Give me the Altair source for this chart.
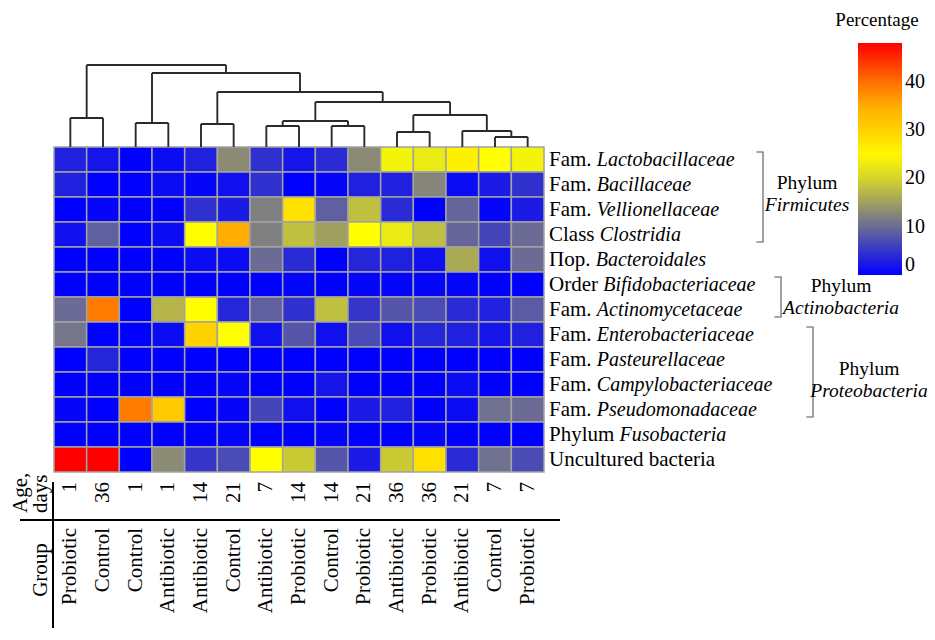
import altair as alt
import pandas as pd

# ---------------- data ----------------
groups = ["Probiotic", "Control", "Control", "Antibiotic", "Antibiotic", "Control", "Antibiotic",
          "Probiotic", "Control", "Probiotic", "Antibiotic", "Probiotic", "Antibiotic", "Control", "Probiotic"]
ages = [1, 36, 1, 1, 14, 21, 7, 14, 14, 21, 36, 36, 21, 7, 7]

row_prefix = ["Fam.", "Fam.", "Fam.", "Class", "Пор.", "Order", "Fam.", "Fam.", "Fam.", "Fam.",
              "Fam.", "Phylum", "Uncultured bacteria"]
row_name = ["Lactobacillaceae", "Bacillaceae", "Vellionellaceae", "Clostridia", "Bacteroidales",
            "Bifidobacteriaceae", "Actinomycetaceae", "Enterobacteriaceae", "Pasteurellaceae",
            "Campylobacteriaceae", "Pseudomonadaceae", "Fusobacteria", ""]

lactobacillaceae = [3, 2, 0, 1, 3, 13, 4.5, 2, 4, 13, 23, 22, 26, 24, 23]
bacillaceae = [3, 0, 0, 1, 0.5, 1.5, 4.5, 0, 0.5, 3, 3, 12.5, 1, 2.5, 4.5]
vellionellaceae = [0, 0.5, 0, 0, 4.5, 2.5, 12, 28, 9, 18, 4, 0, 9.5, 0.5, 2.5]
clostridia = [1.5, 9, 0, 1, 24, 35, 12, 18, 15, 24, 22, 18, 9.5, 6.5, 10]
bacteroidales = [0, 0, 0, 0, 1, 1, 10, 4, 0, 3.5, 3, 1.5, 16, 1.5, 10]
bifidobacteriaceae = [0, 0, 0, 0, 0, 0, 0, 0.5, 0, 0.5, 0.5, 0.5, 0.5, 0, 0]
actinomycetaceae = [10, 39, 0, 17, 24, 3.5, 9, 4.5, 18, 5, 8, 7, 4, 3, 8.5]
enterobacteriaceae = [11, 0, 0, 1, 30, 24, 1.5, 8, 1.5, 7, 1.5, 3.5, 3, 2, 3]
pasteurellaceae = [0, 3.5, 0, 0, 0, 0, 0, 0, 0, 0, 0, 0, 0, 0, 0]
campylobacteriaceae = [0, 0, 0, 0, 0, 0.5, 0, 0, 2, 0, 0, 0, 1, 0, 0]
pseudomonadaceae = [0.5, 0, 39, 31, 0, 0.5, 6.5, 1.5, 0, 2.5, 3, 0, 1, 10.5, 10]
fusobacteria = [0, 0, 0, 0, 0, 0.5, 0, 0, 0.5, 0, 0, 0.5, 0, 0, 0]
uncultured = [48, 48, 0, 13, 5, 7, 24, 19, 8, 2.5, 19, 28, 4, 10.5, 7]

matrix_rows = [lactobacillaceae, bacillaceae, vellionellaceae, clostridia, bacteroidales,
               bifidobacteriaceae, actinomycetaceae, enterobacteriaceae, pasteurellaceae,
               campylobacteriaceae, pseudomonadaceae, fusobacteria, uncultured]

phyla = ["Firmicutes", "Actinobacteria", "Proteobacteria"]
phylum_first_row = [0, 5, 7]
phylum_last_row = [3, 6, 10]

# dendrogram merges: (child a, child b, height); leaves 0..14, new nodes 15..
merges = [(0, 1, 29), (2, 3, 24), (4, 5, 23), (6, 7, 21), (8, 9, 21), (18, 19, 26),
          (10, 11, 15), (13, 14, 10), (12, 22, 16), (21, 23, 32), (20, 24, 45),
          (17, 25, 55), (16, 26, 74), (15, 27, 82)]

legend_ticks = [0, 10, 20, 30, 40]

# ---------------- style ----------------
W, H = 490, 325
NC, NR = len(groups), len(matrix_rows)
COLPX = W / NC
FONT = "Liberation Serif"
FS = 21
FS_IT = 20
FS_PH = 19.5
DEND_PX = 82
BRACE_X = [709, 727, 759]
PHYLUM_X = [753, 787, 815]
PHYLUM_DY = [-3, 0, 8]

# Times/Liberation Serif advance widths (per 1000 em)
CW = {"F": 556, "a": 444, "m": 778, ".": 250, " ": 250, "C": 667, "l": 278, "s": 389,
      "П": 722, "о": 500, "р": 500, "O": 722, "r": 333, "d": 500, "e": 444, "P": 556,
      "h": 500, "y": 500, "u": 500}


def text_w(s):
    return sum(CW.get(ch, 500) for ch in s) * FS / 1000.0


# ---------------- tables ----------------
cells = []
for r, vals in enumerate(matrix_rows):
    for c, v in enumerate(vals):
        cells.append(dict(c0=c, c1=c + 1, r0=r, r1=r + 1, value=v))
df_cells = pd.DataFrame(cells)

df_rows = pd.DataFrame(dict(
    yc=[r + 0.5 for r in range(NR)],
    prefix=row_prefix,
    name=row_name,
    xp=[NC] * NR,
    xi=[NC + text_w(p + " ") / COLPX for p in row_prefix],
))

df_cols = pd.DataFrame(dict(xc=[c + 0.5 for c in range(NC)], group=groups,
                            age=[str(a) for a in ages]))

pos = {i: i + 0.5 for i in range(NC)}
hgt = {i: 0.0 for i in range(NC)}
segs = []
for k, (a, b, h) in enumerate(merges):
    node = NC + k
    for ch in (a, b):
        segs.append(dict(x=pos[ch], x2=pos[ch], y=hgt[ch], y2=h))
    segs.append(dict(x=pos[a], x2=pos[b], y=h, y2=h))
    pos[node] = (pos[a] + pos[b]) / 2
    hgt[node] = h
df_dend = pd.DataFrame(segs)
max_h = max(m[2] for m in merges)

# ---------------- scales ----------------
xs = alt.Scale(domain=[0, NC], nice=False, zero=False)
ys = alt.Scale(domain=[0, NR], reverse=True, nice=False, zero=False)
cs = alt.Scale(domain=[0, 12, 24, 36, 48],
               range=["#0000ff", "#808080", "#ffff00", "#ffa500", "#ff0000"],
               interpolate="rgb")

heat = alt.Chart(df_cells).mark_rect(stroke="#a3a3a3", strokeWidth=1.5).encode(
    x=alt.X("c0:Q", scale=xs, axis=None),
    x2="c1:Q",
    y=alt.Y("r0:Q", scale=ys, axis=None),
    y2="r1:Q",
    color=alt.Color("value:Q", scale=cs, legend=alt.Legend(
        title=None, orient="none", legendX=804, legendY=-104, direction="vertical",
        gradientLength=232, gradientThickness=44, gradientStrokeWidth=0,
        values=legend_ticks, labelFont=FONT, labelFontSize=20, labelColor="black",
        labelOffset=3)),
)

dend = alt.Chart(df_dend).mark_rule(color="#2a2a2a", strokeWidth=1.9).encode(
    x=alt.X("x:Q", scale=xs, axis=None),
    x2="x2:Q",
    y=alt.Y("y:Q", scale=alt.Scale(domain=[0, max_h], range=[0, -DEND_PX], nice=False, zero=False),
            axis=None),
    y2="y2:Q",
)

pref = alt.Chart(df_rows).mark_text(font=FONT, fontSize=FS, align="left", baseline="middle",
                                    dx=5, color="black").encode(
    x=alt.X("xp:Q", scale=xs, axis=None),
    y=alt.Y("yc:Q", scale=ys, axis=None),
    text="prefix:N",
)
ital = alt.Chart(df_rows).mark_text(font=FONT, fontSize=FS_IT, fontStyle="italic", align="left",
                                    baseline="middle", dx=5, color="black").encode(
    x=alt.X("xi:Q", scale=xs, axis=None),
    y=alt.Y("yc:Q", scale=ys, axis=None),
    text="name:N",
)

age_t = alt.Chart(df_cols).mark_text(font=FONT, fontSize=FS, angle=270, align="right",
                                     baseline="middle", color="black").encode(
    x=alt.X("xc:Q", scale=xs, axis=None),
    y=alt.value(335),
    text="age:N",
)
grp_t = alt.Chart(df_cols).mark_text(font=FONT, fontSize=FS, angle=270, align="right",
                                     baseline="middle", color="black").encode(
    x=alt.X("xc:Q", scale=xs, axis=None),
    y=alt.value(381),
    text="group:N",
)

one = pd.DataFrame({"k": [0]})
hline = alt.Chart(one).mark_rule(color="black", strokeWidth=2).encode(
    x=alt.value(-34), x2=alt.value(506), y=alt.value(373))
vline = alt.Chart(one).mark_rule(color="black", strokeWidth=2).encode(
    x=alt.value(-1), y=alt.value(335), y2=alt.value(481))
age_h1 = alt.Chart(one).mark_text(text="Age,", font=FONT, fontSize=FS, angle=270, align="left",
                                  baseline="middle", color="black").encode(
    x=alt.value(-33), y=alt.value(366))
age_h2 = alt.Chart(one).mark_text(text="days", font=FONT, fontSize=FS, angle=270, align="left",
                                  baseline="middle", color="black").encode(
    x=alt.value(-13), y=alt.value(366))
grp_h = alt.Chart(one).mark_text(text="Group", font=FONT, fontSize=FS, angle=270, align="center",
                                 baseline="middle", color="black").encode(
    x=alt.value(-13), y=alt.value(423))
ptitle = alt.Chart(one).mark_text(text="Percentage", font=FONT, fontSize=19, align="center",
                                  baseline="middle", color="black").encode(
    x=alt.value(823), y=alt.value(-127))

layers = [heat, dend, pref, ital, age_t, grp_t, hline, vline, age_h1, age_h2, grp_h, ptitle]

for i, ph in enumerate(phyla):
    top = phylum_first_row[i] + 0.2
    bot = phylum_last_row[i] + 1 - 0.2
    bdf = pd.DataFrame({"t": [top], "b": [bot], "m": [(top + bot) / 2]})
    bx = BRACE_X[i]
    layers.append(alt.Chart(bdf).mark_rule(color="#8a8a8a", strokeWidth=1.6).encode(
        x=alt.value(bx), y=alt.Y("t:Q", scale=ys, axis=None), y2="b:Q"))
    layers.append(alt.Chart(bdf).mark_rule(color="#8a8a8a", strokeWidth=1.6, strokeCap="round").encode(
        x=alt.value(bx - 6), x2=alt.value(bx), y=alt.Y("t:Q", scale=ys, axis=None)))
    layers.append(alt.Chart(bdf).mark_rule(color="#8a8a8a", strokeWidth=1.6, strokeCap="round").encode(
        x=alt.value(bx - 6), x2=alt.value(bx), y=alt.Y("b:Q", scale=ys, axis=None)))
    layers.append(alt.Chart(bdf).mark_text(text="Phylum", font=FONT, fontSize=FS_PH, align="center",
                                           baseline="middle", dy=PHYLUM_DY[i] - 11,
                                           color="black").encode(
        x=alt.value(PHYLUM_X[i]), y=alt.Y("m:Q", scale=ys, axis=None)))
    layers.append(alt.Chart(bdf).mark_text(text=ph, font=FONT, fontSize=FS_PH, fontStyle="italic",
                                           align="center", baseline="middle",
                                           dy=PHYLUM_DY[i] + 11, color="black").encode(
        x=alt.value(PHYLUM_X[i]), y=alt.Y("m:Q", scale=ys, axis=None)))

chart = alt.layer(*layers).resolve_scale(y="independent").properties(
    width=W, height=H,
    autosize=alt.AutoSizeParams(type="none"),
    padding={"left": 46, "top": 139, "right": 383, "bottom": 156},
).configure_view(strokeWidth=0)

chart.save("out.html", embed_options={"renderer": "svg", "actions": False})
